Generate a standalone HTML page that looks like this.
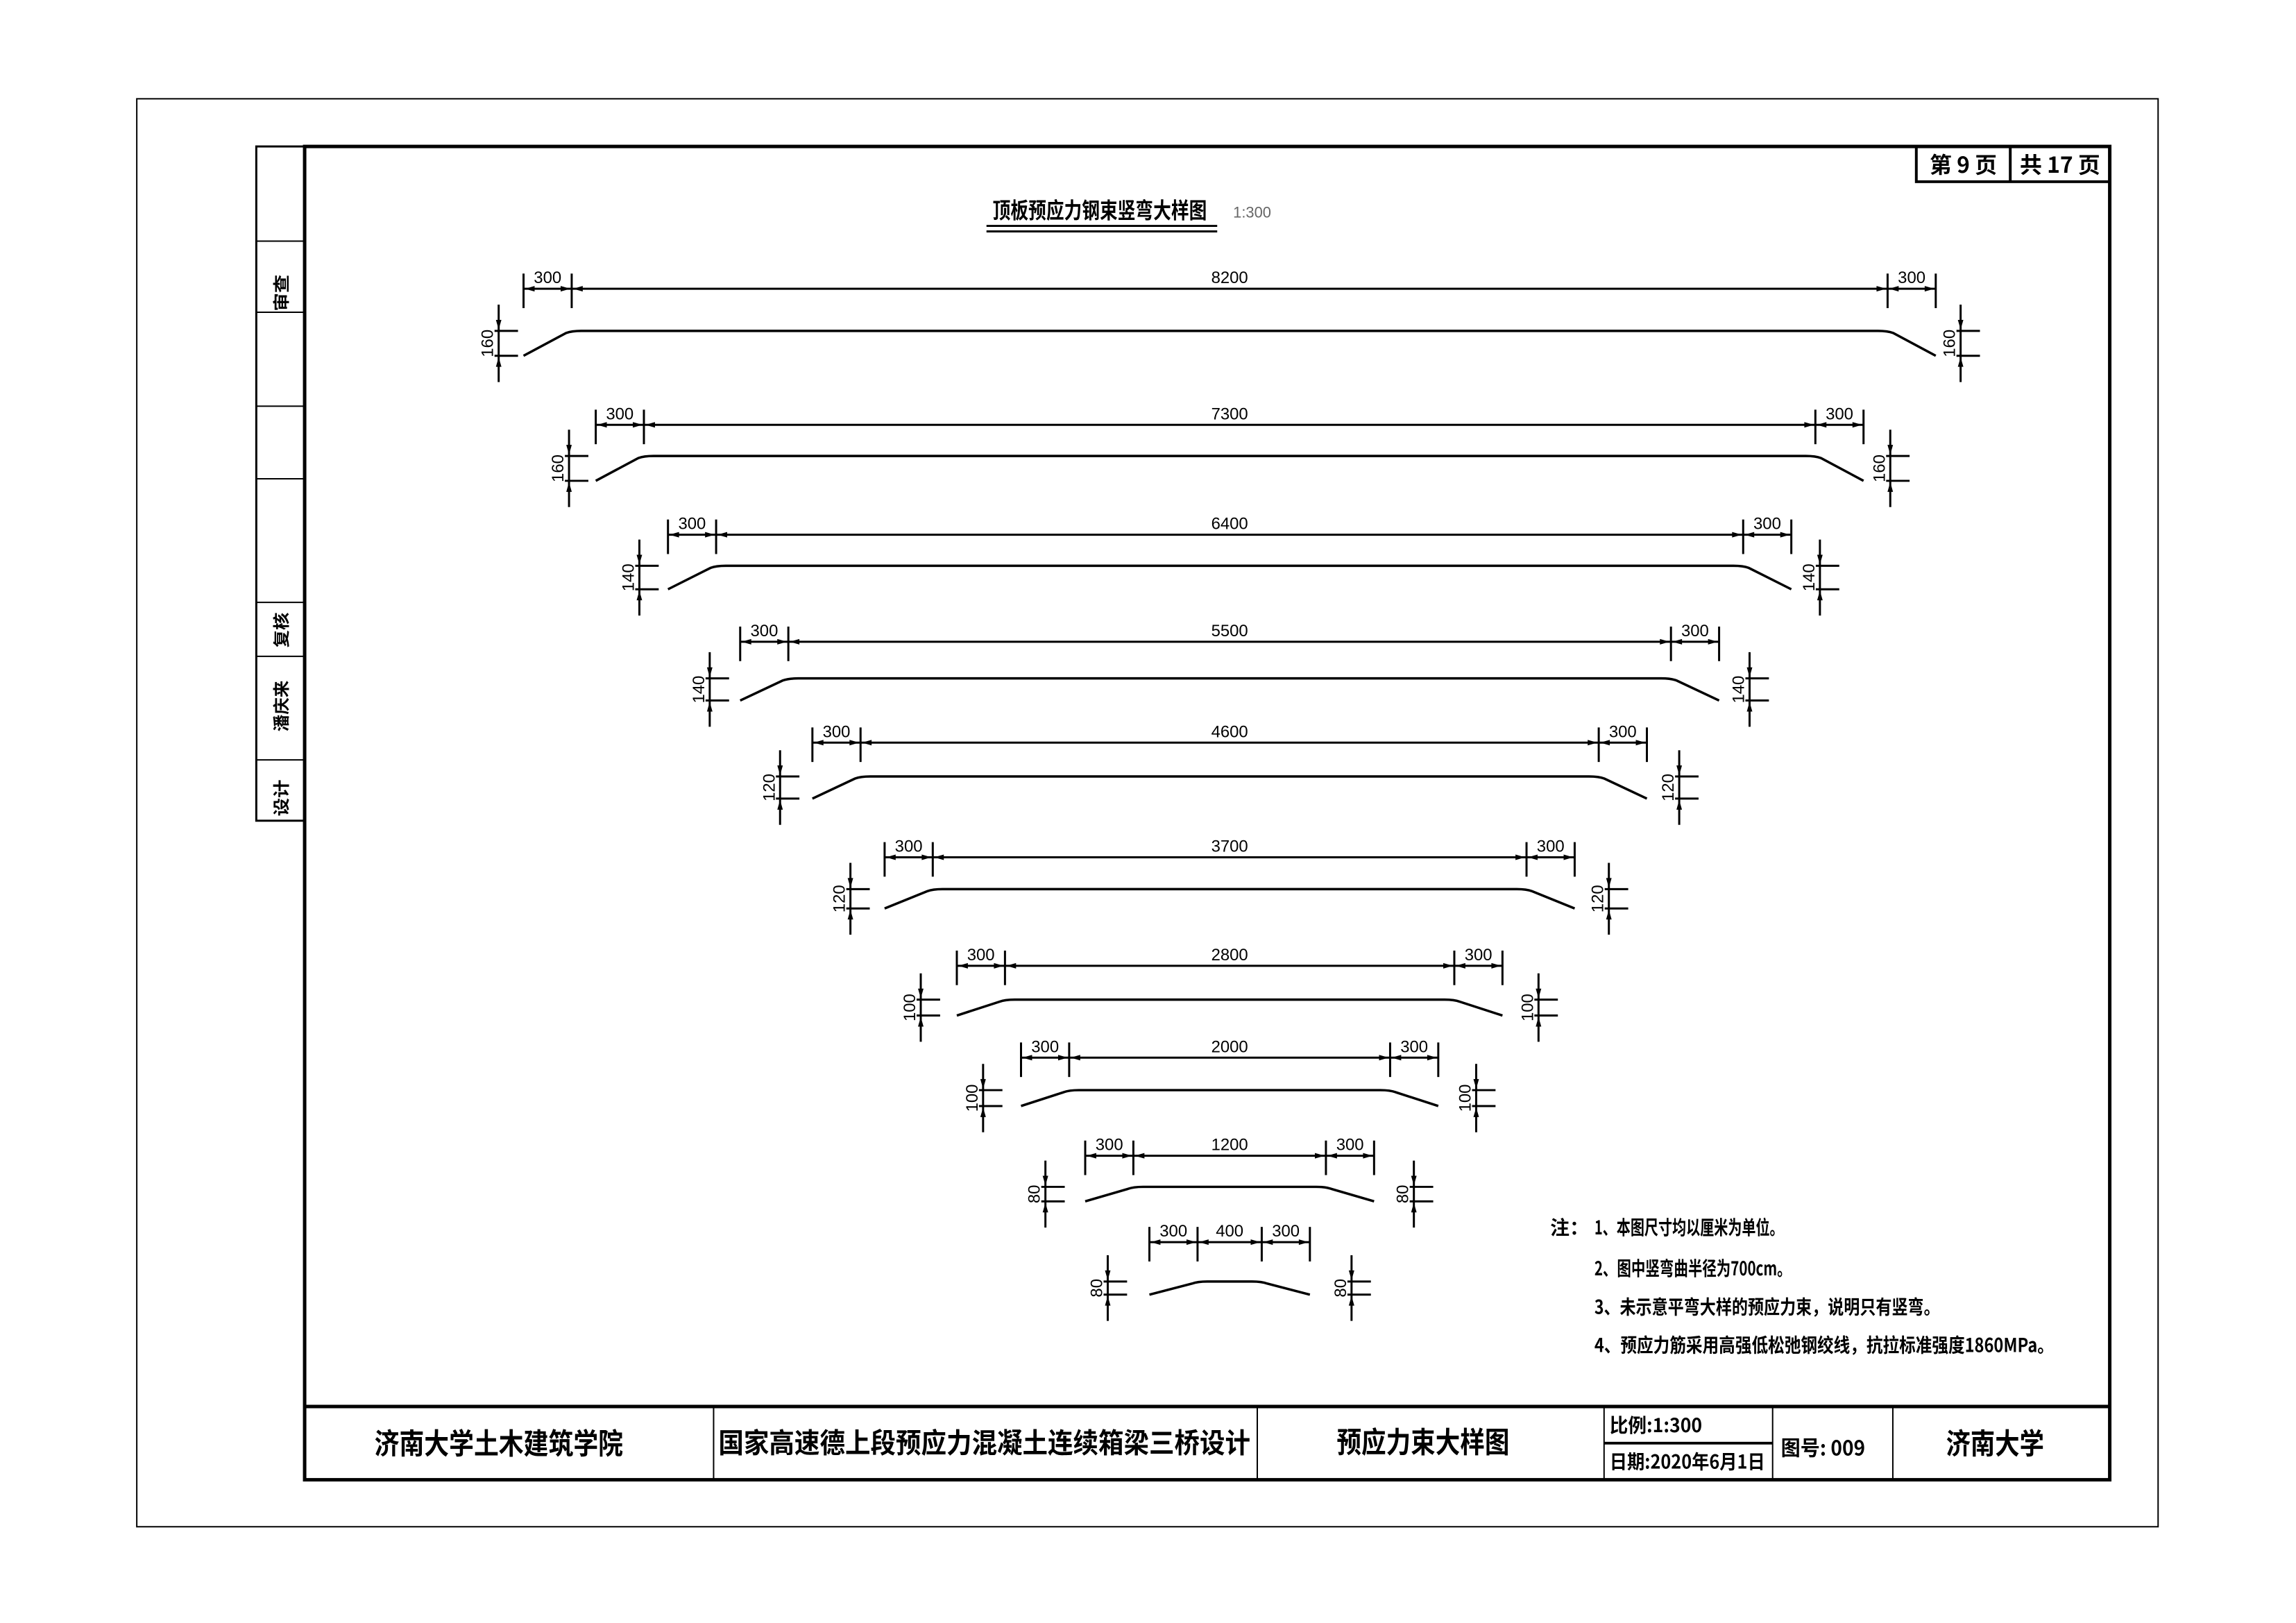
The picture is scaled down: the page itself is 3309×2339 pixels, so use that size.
<!DOCTYPE html>
<html><head><meta charset="utf-8">
<style>
html,body{margin:0;padding:0;background:#fff;}
svg{display:block;}
text{font-family:"Liberation Sans","Noto Sans CJK SC",sans-serif;fill:#000;}
.cj{font-family:"Noto Sans CJK SC","WenQuanYi Zen Hei",sans-serif;font-weight:bold;}
</style></head>
<body>
<svg id="s" width="3309" height="2339" viewBox="0 0 3309 2339" xmlns="http://www.w3.org/2000/svg">
<rect width="3309" height="2339" fill="#fff"/>
<g transform="scale(0.9956)">
<rect x="198" y="143" width="2926" height="2067" fill="none" stroke="#000" stroke-width="2"/>
<rect x="441" y="212" width="2613" height="1930" fill="none" stroke="#000" stroke-width="5"/>
<rect x="371" y="212" width="70" height="976" fill="none" stroke="#000" stroke-width="3"/>
<g stroke="#000" stroke-width="2">
<line x1="371" y1="349" x2="441" y2="349"/><line x1="371" y1="452" x2="441" y2="452"/>
<line x1="371" y1="588" x2="441" y2="588"/><line x1="371" y1="693" x2="441" y2="693"/>
<line x1="371" y1="872" x2="441" y2="872"/><line x1="371" y1="950" x2="441" y2="950"/>
<line x1="371" y1="1100" x2="441" y2="1100"/>
</g>
<text class="cj" transform="translate(416,424) rotate(-90)" font-size="24" text-anchor="middle" textLength="53" lengthAdjust="spacingAndGlyphs">审查</text>
<text class="cj" transform="translate(416,912) rotate(-90)" font-size="24" text-anchor="middle" textLength="51" lengthAdjust="spacingAndGlyphs">复核</text>
<text class="cj" transform="translate(416,1022) rotate(-90)" font-size="24" text-anchor="middle" textLength="74" lengthAdjust="spacingAndGlyphs">潘庆来</text>
<text class="cj" transform="translate(416,1155) rotate(-90)" font-size="24" text-anchor="middle" textLength="53" lengthAdjust="spacingAndGlyphs">设计</text>
<rect x="2774" y="212" width="280" height="51" fill="none" stroke="#000" stroke-width="4"/>
<line x1="2910" y1="212" x2="2910" y2="263" stroke="#000" stroke-width="4"/>
<text class="cj" x="2842" y="250" font-size="32" text-anchor="middle">第 9 页</text>
<text class="cj" x="2982" y="250" font-size="32" text-anchor="middle">共 17 页</text>
<text class="cj" x="1437" y="316" font-size="32" textLength="310" lengthAdjust="spacingAndGlyphs">顶板预应力钢束竖弯大样图</text>
<line x1="1428" y1="327" x2="1762" y2="327" stroke="#000" stroke-width="3"/>
<line x1="1428" y1="335" x2="1762" y2="335" stroke="#000" stroke-width="3"/>
<text x="1785" y="315" font-size="22" style="fill:#666">1:300</text>
<g id="rows"></g>
<text class="cj" x="2244" y="1787" font-size="28">注：</text>
<text class="cj" x="2308" y="1787" font-size="28" textLength="274" lengthAdjust="spacingAndGlyphs">1、本图尺寸均以厘米为单位。</text>
<text class="cj" x="2308" y="1846" font-size="28" textLength="285" lengthAdjust="spacingAndGlyphs">2、图中竖弯曲半径为700cm。</text>
<text class="cj" x="2308" y="1902" font-size="28" textLength="500" lengthAdjust="spacingAndGlyphs">3、未示意平弯大样的预应力束，说明只有竖弯。</text>
<text class="cj" x="2308" y="1957" font-size="28" textLength="665" lengthAdjust="spacingAndGlyphs">4、预应力筋采用高强低松弛钢绞线，抗拉标准强度1860MPa。</text>
<line x1="441" y1="2036" x2="3054" y2="2036" stroke="#000" stroke-width="5"/>
<g stroke="#000" stroke-width="2">
<line x1="1033" y1="2036" x2="1033" y2="2142"/>
<line x1="1820" y1="2036" x2="1820" y2="2142"/>
<line x1="2322" y1="2036" x2="2322" y2="2142"/>
<line x1="2566" y1="2036" x2="2566" y2="2142"/>
<line x1="2740" y1="2036" x2="2740" y2="2142"/>
</g>
<line x1="2322" y1="2089" x2="2566" y2="2089" stroke="#000" stroke-width="4"/>
<text class="cj" x="542" y="2105" font-size="42" textLength="360" lengthAdjust="spacingAndGlyphs">济南大学土木建筑学院</text>
<text class="cj" x="1040" y="2103" font-size="40" textLength="770" lengthAdjust="spacingAndGlyphs">国家高速德上段预应力混凝土连续箱梁三桥设计</text>
<text class="cj" x="1935" y="2103" font-size="42" textLength="250" lengthAdjust="spacingAndGlyphs">预应力束大样图</text>
<text class="cj" x="2330" y="2073" font-size="28" textLength="134" lengthAdjust="spacingAndGlyphs">比例:1:300</text>
<text class="cj" x="2330" y="2126" font-size="28" textLength="225" lengthAdjust="spacingAndGlyphs">日期:2020年6月1日</text>
<text class="cj" x="2578" y="2107" font-size="30" textLength="122" lengthAdjust="spacingAndGlyphs">图号: 009</text>
<text class="cj" x="2817" y="2105" font-size="42" textLength="142" lengthAdjust="spacingAndGlyphs">济南大学</text>
</g>
</svg>
<script>
(function(){
var g=document.getElementById("rows");
var cx=1780,k=0.2323,r=69.7;
var rows=[[8200,160,479,515,418],[7300,160,660,696,615],[6400,140,819,853,774],[5500,140,982,1014,929],
[4600,120,1124,1156,1075],[3700,120,1287,1315,1241],[2800,100,1447,1470,1398],[2000,100,1578,1601,1531],
[1200,80,1718,1739,1673],[400,80,1855,1874,1798]];
var h="";
function ln(a,b,c,d,w){h+='<line x1="'+a+'" y1="'+b+'" x2="'+c+'" y2="'+d+'" stroke="#000" stroke-width="'+(w||3)+'"/>';}
function arr(x,y,dir,vert){var l=14,w=4;var p;
 if(!vert){p=[[x,y],[x+dir*l,y-w],[x+dir*l,y+w]];}else{p=[[x,y],[x-w,y+dir*l],[x+w,y+dir*l]];}
 h+='<polygon points="'+p.map(function(q){return q.join(",");}).join(" ")+'" fill="#000"/>';}
function tx(x,y,s,rot){if(rot)h+='<text transform="translate('+x+','+y+') rotate(-90)" font-size="24" text-anchor="middle">'+s+'</text>';
 else h+='<text x="'+x+'" y="'+y+'" font-size="24" text-anchor="middle">'+s+'</text>';}
rows.forEach(function(R,i){
 var L=R[0],v=R[1],yt=R[2],yb=R[3],yd=R[4];
 var half=L/2*k,xl=cx-half-r,xr=cx+half+r,b1=cx-half,b2=cx+half;
 h+='<path d="M'+xl+' '+yb+' L'+(b1-8)+' '+(yt+3)+' Q'+b1+' '+yt+' '+(b1+14)+' '+yt+' L'+(b2-14)+' '+yt+' Q'+b2+' '+yt+' '+(b2+8)+' '+(yt+3)+' L'+xr+' '+yb+'" fill="none" stroke="#000" stroke-width="3.5"/>';
 [xl,b1,b2,xr].forEach(function(x){ln(x,yd-22,x,yd+28,3);});
 ln(xl,yd,xr,yd,3);
 [[xl,b1],[b1,b2],[b2,xr]].forEach(function(s){arr(s[0]+2,yd,1);arr(s[1]-2,yd,-1);});
 tx((xl+b1)/2,yd-8,"300");tx((b2+xr)/2,yd-8,"300");tx(cx,yd-8,String(L));
 var off=36+(i*2.7);
 [[xl-off,-1],[xr+off,1]].forEach(function(q){var vx=q[0];
  ln(vx-6,yt,vx+28,yt,3);ln(vx-6,yb,vx+28,yb,3);
  ln(vx,yt-38,vx,yb+38,3);arr(vx,yt-2,-1,true);arr(vx,yb+2,1,true);
  tx(vx-8,(yt+yb)/2,String(v),true);});
});
g.innerHTML=h;
})();
</script>
</body></html>
